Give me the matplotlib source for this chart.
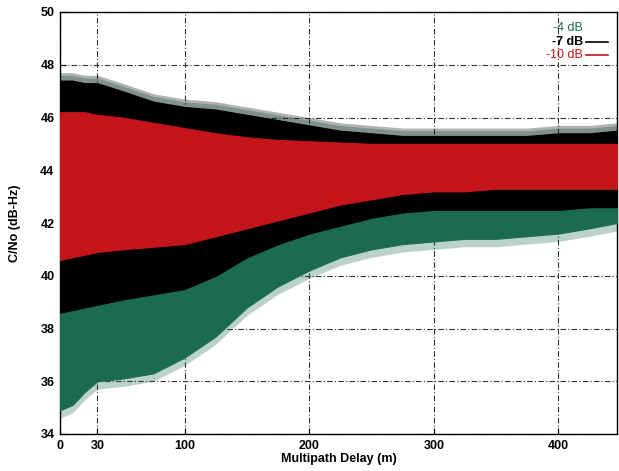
import numpy as np
import matplotlib
matplotlib.use("Agg")
import matplotlib.pyplot as plt

# multipath delay sample positions (m)
delay = [0, 10, 20, 30, 50, 75, 100, 125, 150, 175, 200, 225, 250, 275,
         300, 325, 350, 375, 400, 425, 447]

# C/No spread (min / max, dB-Hz) for each multipath attenuation
green_lo = [34.9, 35.1, 35.6, 36.0, 36.1, 36.3, 36.9, 37.7, 38.8, 39.6, 40.2,
            40.7, 41.0, 41.2, 41.3, 41.4, 41.4, 41.5, 41.6, 41.8, 42.0]
green_hi = [47.3, 47.3, 47.2, 47.2, 46.9, 46.5, 46.3, 46.2, 46.0, 45.8, 45.6,
            45.4, 45.3, 45.2, 45.2, 45.2, 45.2, 45.2, 45.3, 45.3, 45.4]
black_lo = [38.6, 38.7, 38.8, 38.9, 39.1, 39.3, 39.5, 40.0, 40.7, 41.2, 41.6,
            41.9, 42.2, 42.4, 42.5, 42.5, 42.5, 42.5, 42.5, 42.6, 42.6]
black_hi = [47.4, 47.4, 47.3, 47.3, 47.0, 46.6, 46.4, 46.3, 46.1, 45.9, 45.7,
            45.5, 45.4, 45.3, 45.3, 45.3, 45.3, 45.3, 45.4, 45.4, 45.5]
red_lo = [40.6, 40.7, 40.8, 40.9, 41.0, 41.1, 41.2, 41.5, 41.8, 42.1, 42.4,
          42.7, 42.9, 43.1, 43.2, 43.2, 43.3, 43.3, 43.3, 43.3, 43.3]
red_hi = [46.2, 46.2, 46.2, 46.1, 46.0, 45.8, 45.6, 45.4, 45.25, 45.15, 45.1,
          45.05, 45.0, 45.0, 45.0, 45.0, 45.0, 45.0, 45.0, 45.0, 45.0]

labels = ["-4 dB", "-7 dB", "-10 dB"]
xticks = [0, 30, 100, 200, 300, 400]
yticks = [34, 36, 38, 40, 42, 44, 46, 48, 50]

GREEN = "#1b6a52"
BLACK = "#000000"
RED = "#c4151b"

plt.rcParams["font.family"] = ["Liberation Sans", "DejaVu Sans"]

fig = plt.figure(figsize=(6.19, 4.71), dpi=100)
ax = fig.add_axes([60 / 619, 37 / 471, 557 / 619, 422 / 471])

bands = [(green_lo, green_hi, GREEN), (black_lo, black_hi, BLACK), (red_lo, red_hi, RED)]

# soft fringe standing in for the noise spikes at the band edges
for lo, hi, c in bands:
    lo = np.asarray(lo)
    hi = np.asarray(hi)
    ax.fill_between(delay, hi, hi + 0.3, color=c, alpha=0.3, linewidth=0, zorder=2)
    ax.fill_between(delay, lo - 0.3, lo, color=c, alpha=0.3, linewidth=0, zorder=2)

for lo, hi, c in bands:
    ax.fill_between(delay, lo, hi, color=c, linewidth=0.8, edgecolor=c, zorder=3)

ax.set_xlim(0, 447)
ax.set_ylim(34, 50)
ax.set_xticks(xticks)
ax.set_yticks(yticks)
ax.grid(True, color="#333333", linestyle=(0, (5, 2, 1, 2)), linewidth=0.8, zorder=1)
ax.set_axisbelow(True)
ax.tick_params(direction="in", length=4, labelsize=9, pad=4)
for lab in ax.get_xticklabels() + ax.get_yticklabels():
    lab.set_fontweight("bold")
for s in ax.spines.values():
    s.set_linewidth(1.0)

ax.set_xlabel("Multipath Delay (m)", fontsize=9, fontweight="bold", labelpad=1)
ax.set_ylabel("C/No (dB-Hz)", fontsize=9, fontweight="bold", labelpad=14)

# gnuplot-like key in the upper right corner
key_y = [0.962, 0.929, 0.898]
key_c = [GREEN, BLACK, RED]
for lab, y, c in zip(labels, key_y, key_c):
    ax.text(0.939, y, lab, transform=ax.transAxes, ha="right", va="center",
            color=c, fontsize=9, fontweight="bold" if c == BLACK else "normal")
    if c != GREEN:
        ax.plot([0.945, 0.984], [y, y], transform=ax.transAxes, color=c,
                linewidth=1.2, zorder=5)

fig.savefig("out.png", dpi=100)
